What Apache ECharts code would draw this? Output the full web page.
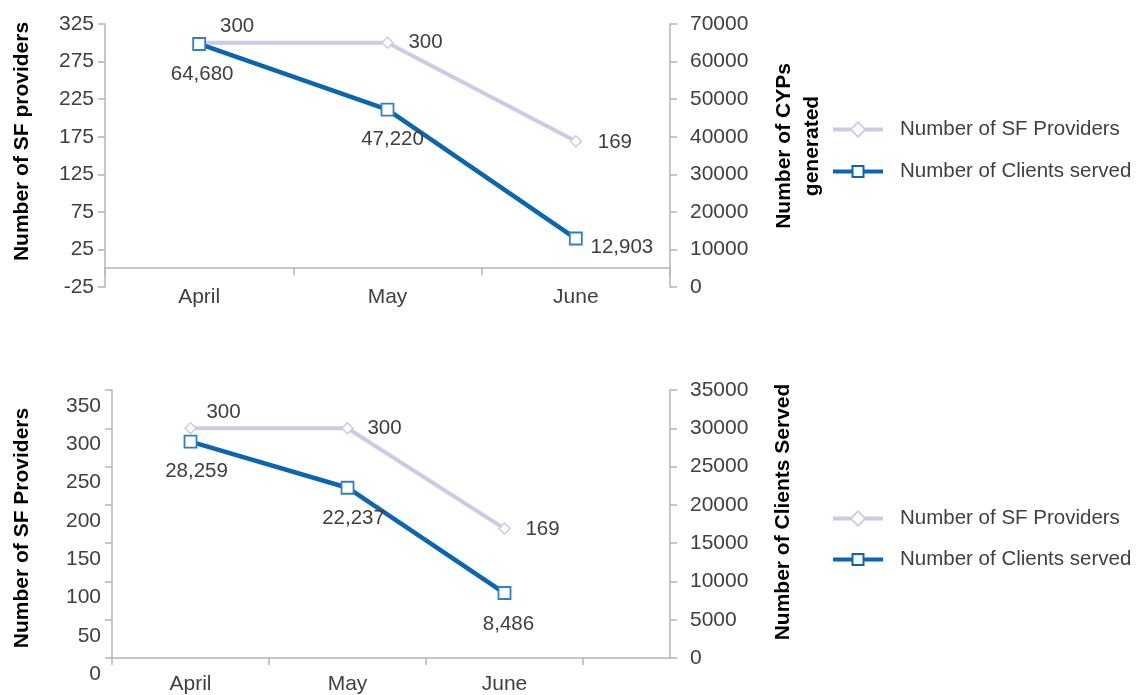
<!DOCTYPE html>
<html><head><meta charset="utf-8">
<script src="https://cdn.jsdelivr.net/npm/echarts@6/dist/echarts.min.js"></script>
<style>html,body{margin:0;padding:0;background:#fff}#c{width:1147px;height:695px}</style>
</head><body><div id="c"></div>
<script>
// ---- data ----
const months = ['April', 'May', 'June'];
const seriesNames = ['Number of SF Providers', 'Number of Clients served'];
const topProviders = [300, 300, 169];
const topCYPs = [64680, 47220, 12903];
const bottomProviders = [300, 300, 169];
const bottomClients = [28259, 22237, 8486];
const topLeftTicks = [-25, 25, 75, 125, 175, 225, 275, 325];
const bottomCategoryTicks = [0, 1, 2, 3];

// ---- styles ----
const FONT = "'Liberation Sans', Arial, Helvetica, sans-serif";
const TXT = '#404040';
const AX = '#b5b5b5';
const LAV = '#cdcae6';
const BLUE = '#0a66b0';
const BLUE_MK = '#2f80c6';
const FS = 20.5;

const topProvOff = [[38, -16], [38, 0], [39, 1]];
const topCypOff = [[3, 30], [5, 30], [46, 9]];
const botProvOff = [[33, -16], [37, 0], [38, 1]];
const botCliOff = [[6, 30], [6, 31], [4, 31]];

// legend icons: line + hollow marker (drawn as one path, 50x17 box)
const ICON_DIAMOND = 'path://M0 6.5L19 6.5L19 10.5L0 10.5Z M31 6.5L50 6.5L50 10.5L31 10.5Z ' +
  'M25 0L33.5 8.5L25 17L16.5 8.5Z M25 2.5L19 8.5L25 14.5L31 8.5Z';
const ICON_SQUARE = 'path://M25 0L25.01 0L25 0Z M25 17L25.01 17L25 17Z ' +
  'M0 6.5L19 6.5L19 10.5L0 10.5Z M31 6.5L50 6.5L50 10.5L31 10.5Z ' +
  'M18.5 2L31.5 2L31.5 15L18.5 15Z M20.5 4L20.5 13L29.5 13L29.5 4Z';

const fmt = v => Number(v).toLocaleString('en-US');

function catItems(vals, offs) {
  return vals.map((v, i) => ({ value: v, label: { offset: offs[i] } }));
}
function posItems(vals, offs) {
  return vals.map((v, i) => ({ value: [i + 0.5, v], label: { offset: offs[i] } }));
}

const axisLine = { show: true, lineStyle: { color: AX, width: 1.5 } };
const axisTick = { show: true, length: 7, lineStyle: { color: AX, width: 1.5 } };
const axisLabel = { fontSize: 21, color: TXT, fontFamily: FONT };
const nameStyle = { fontSize: 21, fontWeight: 'bold', color: '#000', fontFamily: FONT };

function labelCfg() {
  return { show: true, position: 'inside', fontSize: FS, color: TXT, fontFamily: FONT,
    formatter: p => fmt(Array.isArray(p.value) ? p.value[1] : p.value) };
}
function provSeries(xi, yi, data) {
  return {
    type: 'line', name: seriesNames[0], xAxisIndex: xi, yAxisIndex: yi, data,
    symbol: 'diamond', symbolSize: 11, showAllSymbol: true,
    lineStyle: { color: LAV, width: 4 },
    itemStyle: { color: '#fff', borderColor: LAV, borderWidth: 1.5 },
    label: labelCfg(), emphasis: { disabled: true }, z: 2
  };
}
function cliSeries(xi, yi, data) {
  return {
    type: 'line', name: seriesNames[1], xAxisIndex: xi, yAxisIndex: yi, data,
    symbol: 'rect', symbolSize: 12, showAllSymbol: true,
    lineStyle: { color: BLUE, width: 4.5 },
    itemStyle: { color: '#fff', borderColor: BLUE_MK, borderWidth: 1.8 },
    label: labelCfg(), emphasis: { disabled: true }, z: 3
  };
}

function legend(top, gap) {
  return {
    orient: 'vertical', left: 828, top: top, itemWidth: 50, itemHeight: 17, itemGap: gap,
    selectedMode: false, symbolKeepAspect: true,
    data: [
      { name: seriesNames[0], icon: ICON_DIAMOND, itemStyle: { color: LAV, borderWidth: 0 } },
      { name: seriesNames[1], icon: ICON_SQUARE, itemStyle: { color: BLUE, borderWidth: 0 } }
    ],
    textStyle: { fontSize: FS, color: TXT, fontFamily: FONT, padding: [0, 0, 0, 12] }
  };
}

const option = {
  animation: false,
  backgroundColor: '#fff',
  textStyle: { fontFamily: FONT },
  grid: [
    { left: 105, top: 24, width: 565, height: 263 },
    { left: 112, top: 390, width: 558, height: 269 }
  ],
  legend: [legend(114, 21), legend(503, 20)],
  xAxis: [
    { type: 'category', gridIndex: 0, data: months, boundaryGap: true,
      axisLine: Object.assign({ onZero: true, onZeroAxisIndex: 0 }, axisLine),
      axisTick: axisTick, axisLabel: Object.assign({ margin: 0 }, axisLabel),
      splitLine: { show: false } },
    { type: 'value', gridIndex: 1, min: 0, max: 558 / 157,
      axisLine: axisLine,
      axisTick: Object.assign({ customValues: bottomCategoryTicks }, axisTick),
      axisLabel: Object.assign({ margin: 16, customValues: months.map((m, i) => i + 0.5),
        formatter: v => months[Math.floor(v)] }, axisLabel),
      splitLine: { show: false } }
  ],
  yAxis: [
    { type: 'value', gridIndex: 0, position: 'left', min: -25, max: 325,
      axisLine: axisLine,
      axisTick: Object.assign({ customValues: topLeftTicks }, axisTick),
      axisLabel: Object.assign({ margin: 11, customValues: topLeftTicks }, axisLabel),
      splitLine: { show: false },
      name: 'Number of SF providers', nameLocation: 'middle', nameRotate: 90, nameGap: 72,
      nameTextStyle: Object.assign({ padding: [0, 0, 0, 28] }, nameStyle) },
    { type: 'value', gridIndex: 0, position: 'right', min: 0, max: 70000, interval: 10000,
      axisLine: axisLine, axisTick: axisTick,
      axisLabel: Object.assign({ margin: 20, formatter: v => String(v) }, axisLabel),
      splitLine: { show: false },
      name: 'Number of CYPs\ngenerated', nameLocation: 'middle', nameRotate: 90, nameGap: 100,
      nameTextStyle: Object.assign({ padding: [0, 0, 0, 19], lineHeight: 28 }, nameStyle) },
    { type: 'value', gridIndex: 1, position: 'left', min: 0, max: 350, interval: 50,
      axisLine: axisLine, axisTick: axisTick,
      axisLabel: Object.assign({ margin: 11, verticalAlign: 'top', lineHeight: 32 }, axisLabel),
      splitLine: { show: false },
      name: 'Number of SF Providers', nameLocation: 'middle', nameRotate: 90, nameGap: 79,
      nameTextStyle: Object.assign({ padding: [0, 8, 0, 0] }, nameStyle) },
    { type: 'value', gridIndex: 1, position: 'right', min: 0, max: 35000, interval: 5000,
      axisLine: axisLine, axisTick: axisTick,
      axisLabel: Object.assign({ margin: 20, formatter: v => String(v) }, axisLabel),
      splitLine: { show: false },
      name: 'Number of Clients Served', nameLocation: 'middle', nameRotate: 90, nameGap: 103,
      nameTextStyle: Object.assign({ padding: [0, 0, 0, 24] }, nameStyle) }
  ],
  series: [
    provSeries(0, 0, catItems(topProviders, topProvOff)),
    cliSeries(0, 1, catItems(topCYPs, topCypOff)),
    provSeries(1, 2, posItems(bottomProviders, botProvOff)),
    cliSeries(1, 3, posItems(bottomClients, botCliOff))
  ]
};

const chart = echarts.init(document.getElementById('c'), null, { renderer: 'canvas' });
chart.setOption(option);
</script>
</body></html>
